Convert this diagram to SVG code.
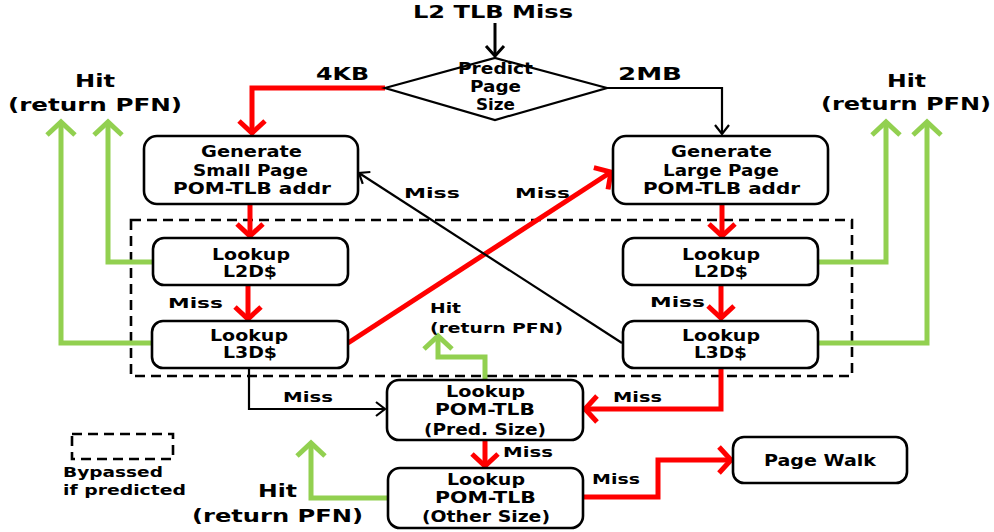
<svg xmlns="http://www.w3.org/2000/svg" width="994" height="532" viewBox="0 0 994 532">
<style>
text{font-family:"DejaVu Sans","Liberation Sans",sans-serif;font-weight:bold;fill:#000}
.big{font-size:17.5px}
.bx{font-size:15px}
.lbl{font-size:14.5px}
.sm{font-size:13.5px}
.box{fill:#fff;stroke:#000;stroke-width:2.6}
.dash{fill:none;stroke:#000;stroke-width:2.6;stroke-dasharray:10 6}
.red{fill:none;stroke:#f00;stroke-width:5}
.grn{fill:none;stroke:#92d050;stroke-width:5}
.blk{fill:none;stroke:#000;stroke-width:2.2}
</style>
<defs>
<marker id="ar" markerUnits="userSpaceOnUse" viewBox="-20 -20 40 40" markerWidth="40" markerHeight="40" refX="0" refY="0" orient="auto" overflow="visible">
<path d="M-12,-13 L0,0 L-12,13" fill="none" stroke="#f00" stroke-width="5"/>
</marker>
<marker id="ag" markerUnits="userSpaceOnUse" viewBox="-20 -20 40 40" markerWidth="40" markerHeight="40" refX="0" refY="0" orient="auto" overflow="visible">
<path d="M-13,-14 L0,0 L-13,14" fill="none" stroke="#92d050" stroke-width="5"/>
</marker>
<marker id="ab" markerUnits="userSpaceOnUse" viewBox="-20 -20 40 40" markerWidth="40" markerHeight="40" refX="0" refY="0" orient="auto" overflow="visible">
<path d="M-9,-7 L0,0 L-9,7" fill="none" stroke="#000" stroke-width="2.2"/>
</marker>
<marker id="abt" markerUnits="userSpaceOnUse" viewBox="-20 -20 40 40" markerWidth="40" markerHeight="40" refX="0" refY="0" orient="auto" overflow="visible">
<path d="M-10,-9 L0,0 L-10,9" fill="none" stroke="#000" stroke-width="3"/>
</marker>
</defs>

<g id="bypass-region">
<rect class="dash" x="131" y="220" width="721" height="156"/>
</g>

<g id="connectors">
<path class="blk" style="stroke-width:3" d="M495,23 V56" marker-end="url(#abt)"/>
<path class="red" d="M385,88 H252 V133" marker-end="url(#ar)"/>
<path class="blk" d="M607,88 H722 V134" marker-end="url(#ab)"/>
<path class="red" d="M250,204 V236" marker-end="url(#ar)"/>
<path class="red" d="M722,204 V236" marker-end="url(#ar)"/>
<path class="red" d="M248,286 V319" marker-end="url(#ar)"/>
<path class="red" d="M721,286 V318" marker-end="url(#ar)"/>
<path class="red" d="M348,343 L611,172" marker-end="url(#ar)"/>
<path class="blk" d="M622,343 L359,173" marker-end="url(#ab)"/>
<path class="blk" d="M249,368 V409 H385" marker-end="url(#ab)"/>
<path class="red" d="M721,368 V409 H585" marker-end="url(#ar)"/>
<path class="red" d="M485,440 V466" marker-end="url(#ar)"/>
<path class="red" d="M583,497 H658 V460 H731" marker-end="url(#ar)"/>
<path class="grn" d="M153,262 H108 V122" marker-end="url(#ag)"/>
<path class="grn" d="M152,343 H61 V122" marker-end="url(#ag)"/>
<path class="grn" d="M818,262 H886 V122" marker-end="url(#ag)"/>
<path class="grn" d="M818,343 H927 V122" marker-end="url(#ag)"/>
<path class="grn" d="M485,380 V357 H438 V336" marker-end="url(#ag)"/>
<path class="grn" d="M388,498 H311 V443" marker-end="url(#ag)"/>
</g>

<g id="labels">
<text class="big" x="413" y="18" textLength="160" lengthAdjust="spacingAndGlyphs">L2 TLB Miss</text>
<text class="big" x="316" y="80" textLength="53" lengthAdjust="spacingAndGlyphs">4KB</text>
<text class="big" x="618" y="80" textLength="64" lengthAdjust="spacingAndGlyphs">2MB</text>
<text class="big" x="75" y="87" textLength="40" lengthAdjust="spacingAndGlyphs">Hit</text>
<text class="big" x="8" y="111" textLength="174" lengthAdjust="spacingAndGlyphs">(return PFN)</text>
<text class="big" x="887" y="87" textLength="39" lengthAdjust="spacingAndGlyphs">Hit</text>
<text class="big" x="821" y="110" textLength="170" lengthAdjust="spacingAndGlyphs">(return PFN)</text>
<text class="big" x="258" y="497" textLength="39" lengthAdjust="spacingAndGlyphs">Hit</text>
<text class="big" x="192" y="522" textLength="171" lengthAdjust="spacingAndGlyphs">(return PFN)</text>
<text class="sm" x="430" y="313" textLength="31" lengthAdjust="spacingAndGlyphs">Hit</text>
<text class="sm" x="430" y="333" textLength="133" lengthAdjust="spacingAndGlyphs">(return PFN)</text>
<text class="lbl" x="168" y="308" textLength="55" lengthAdjust="spacingAndGlyphs">Miss</text>
<text class="lbl" x="650" y="307" textLength="55" lengthAdjust="spacingAndGlyphs">Miss</text>
<text class="lbl" x="283" y="402" textLength="50" lengthAdjust="spacingAndGlyphs">Miss</text>
<text class="lbl" x="613" y="402" textLength="49" lengthAdjust="spacingAndGlyphs">Miss</text>
<text class="lbl" x="503" y="457" textLength="50" lengthAdjust="spacingAndGlyphs">Miss</text>
<text class="lbl" x="592" y="484" textLength="48" lengthAdjust="spacingAndGlyphs">Miss</text>
<text class="lbl" x="404" y="198" textLength="56" lengthAdjust="spacingAndGlyphs">Miss</text>
<text class="lbl" x="515" y="198" textLength="55" lengthAdjust="spacingAndGlyphs">Miss</text>
</g>

<g id="predict">
<polygon points="385,88 495,58 607,88 495,120" fill="#fff" stroke="#000" stroke-width="2.2"/>
<text class="bx" x="458" y="74" textLength="75" lengthAdjust="spacingAndGlyphs">Predict</text>
<text class="bx" x="470" y="92" textLength="51" lengthAdjust="spacingAndGlyphs">Page</text>
<text class="bx" x="476" y="110" textLength="39" lengthAdjust="spacingAndGlyphs">Size</text>
</g>

<g id="gen-small">
<rect class="box" x="144" y="136" width="214" height="68" rx="13"/>
<text class="bx" x="201" y="157" textLength="101" lengthAdjust="spacingAndGlyphs">Generate</text>
<text class="bx" x="193" y="176" textLength="115" lengthAdjust="spacingAndGlyphs">Small Page</text>
<text class="bx" x="173" y="194" textLength="158" lengthAdjust="spacingAndGlyphs">POM-TLB addr</text>
</g>

<g id="gen-large">
<rect class="box" x="613" y="136" width="215" height="68" rx="13"/>
<text class="bx" x="671" y="157" textLength="101" lengthAdjust="spacingAndGlyphs">Generate</text>
<text class="bx" x="663" y="176" textLength="116" lengthAdjust="spacingAndGlyphs">Large Page</text>
<text class="bx" x="643" y="194" textLength="157" lengthAdjust="spacingAndGlyphs">POM-TLB addr</text>
</g>

<g id="l2d-left">
<rect class="box" x="153" y="238" width="195" height="47" rx="11"/>
<text class="bx" x="212" y="260" textLength="78" lengthAdjust="spacingAndGlyphs">Lookup</text>
<text class="bx" x="223" y="277" textLength="54" lengthAdjust="spacingAndGlyphs">L2D$</text>
</g>

<g id="l2d-right">
<rect class="box" x="623" y="238" width="195" height="47" rx="11"/>
<text class="bx" x="682" y="260" textLength="78" lengthAdjust="spacingAndGlyphs">Lookup</text>
<text class="bx" x="694" y="277" textLength="54" lengthAdjust="spacingAndGlyphs">L2D$</text>
</g>

<g id="l3d-left">
<rect class="box" x="152" y="321" width="196" height="47" rx="11"/>
<text class="bx" x="210" y="341" textLength="78" lengthAdjust="spacingAndGlyphs">Lookup</text>
<text class="bx" x="223" y="358" textLength="54" lengthAdjust="spacingAndGlyphs">L3D$</text>
</g>

<g id="l3d-right">
<rect class="box" x="623" y="321" width="195" height="47" rx="11"/>
<text class="bx" x="682" y="341" textLength="78" lengthAdjust="spacingAndGlyphs">Lookup</text>
<text class="bx" x="694" y="358" textLength="53" lengthAdjust="spacingAndGlyphs">L3D$</text>
</g>

<g id="pom-pred">
<rect class="box" x="387" y="380" width="196" height="60" rx="12"/>
<text class="bx" x="446" y="397" textLength="79" lengthAdjust="spacingAndGlyphs">Lookup</text>
<text class="bx" x="435" y="415" textLength="100" lengthAdjust="spacingAndGlyphs">POM-TLB</text>
<text class="bx" x="424" y="435" textLength="122" lengthAdjust="spacingAndGlyphs">(Pred. Size)</text>
</g>

<g id="pom-other">
<rect class="box" x="388" y="468" width="195" height="60" rx="12"/>
<text class="bx" x="447" y="485" textLength="78" lengthAdjust="spacingAndGlyphs">Lookup</text>
<text class="bx" x="435" y="503" textLength="101" lengthAdjust="spacingAndGlyphs">POM-TLB</text>
<text class="bx" x="422" y="522" textLength="128" lengthAdjust="spacingAndGlyphs">(Other Size)</text>
</g>

<g id="page-walk">
<rect class="box" x="733" y="437" width="174" height="46" rx="11"/>
<text class="bx" x="764" y="466" textLength="112" lengthAdjust="spacingAndGlyphs">Page Walk</text>
</g>

<g id="legend">
<rect class="dash" x="72" y="434" width="101" height="25"/>
<text class="lbl" x="63" y="477" textLength="100" lengthAdjust="spacingAndGlyphs">Bypassed</text>
<text class="lbl" x="63" y="495" textLength="123" lengthAdjust="spacingAndGlyphs">if predicted</text>
</g>
</svg>
